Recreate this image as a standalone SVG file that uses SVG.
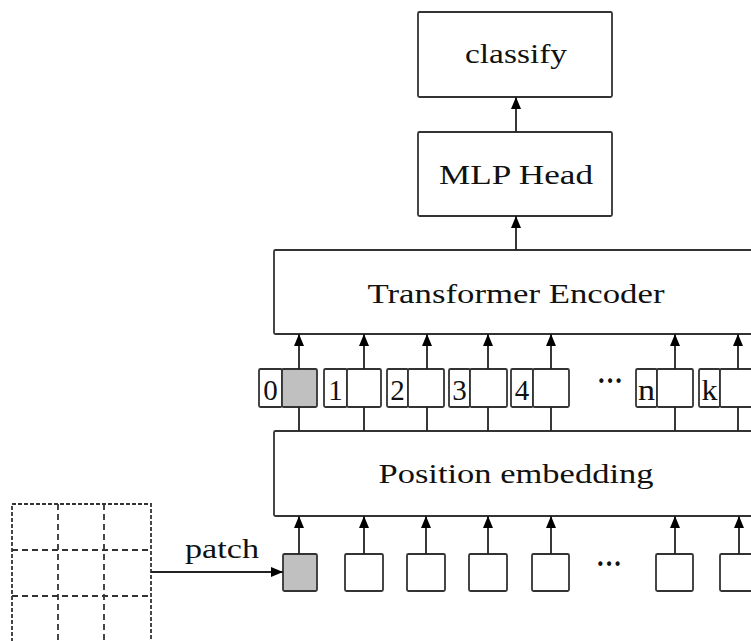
<svg xmlns="http://www.w3.org/2000/svg" width="751" height="641" viewBox="0 0 751 641">
<style>
.box{fill:#fff;stroke:#333;stroke-width:1.8}
.gray{fill:#c0c0c0;stroke:#333;stroke-width:1.8}
.ln{stroke:#222;stroke-width:1.8;fill:none}
.dash{stroke:#333;stroke-width:1.8;fill:none;stroke-dasharray:6 4}
.t{font-family:"Liberation Serif","Times New Roman",serif;fill:#111;text-anchor:middle}
.big{font-size:28px}
.sm{font-size:29px}
</style>
<defs>
<marker id="ah" viewBox="0 0 12 10" refX="12" refY="5" markerWidth="12" markerHeight="10" markerUnits="userSpaceOnUse" orient="auto">
<path d="M0,0 L12,5 L0,10 z" fill="#000"/>
</marker>
</defs>
<rect width="751" height="641" fill="#fff"/>

<g id="classify">
<rect class="box" x="418" y="12" width="194" height="85" rx="1.5"/>
<text class="t big" x="516" y="63" textLength="102" lengthAdjust="spacingAndGlyphs">classify</text>
</g>
<g id="mlp-head">
<rect class="box" x="418" y="132" width="194" height="84" rx="1.5"/>
<text class="t big" x="516" y="184" textLength="154" lengthAdjust="spacingAndGlyphs">MLP Head</text>
</g>
<g id="transformer-encoder">
<rect class="box" x="274" y="250" width="490" height="84" rx="1.5"/>
<text class="t big" x="516" y="303" textLength="297" lengthAdjust="spacingAndGlyphs">Transformer Encoder</text>
</g>
<g id="position-embedding">
<rect class="box" x="274" y="431" width="490" height="85" rx="1.5"/>
<text class="t big" x="516" y="483" textLength="275" lengthAdjust="spacingAndGlyphs">Position embedding</text>
</g>

<g id="image-grid">
<rect class="dash" x="12" y="504" width="139" height="140" style="stroke-dasharray:4 2"/>
<line class="dash" x1="58" y1="504" x2="58" y2="641"/>
<line class="dash" x1="104" y1="504" x2="104" y2="641"/>
<line class="dash" x1="12" y1="550" x2="151" y2="550"/>
<line class="dash" x1="12" y1="596" x2="151" y2="596"/>
</g>

<g id="tokens">
<g id="token-0"><rect class="box" x="259" y="369" width="23" height="38" rx="1.5"/><rect class="gray" x="282" y="369" width="35" height="38" rx="1.5"/><text class="t sm" x="270.5" y="400">0</text></g>
<g id="token-1"><rect class="box" x="324" y="369" width="23" height="38" rx="1.5"/><rect class="box" x="347" y="369" width="34" height="38" rx="1.5"/><text class="t sm" x="335.5" y="400">1</text></g>
<g id="token-2"><rect class="box" x="387" y="369" width="21" height="38" rx="1.5"/><rect class="box" x="408" y="369" width="36" height="38" rx="1.5"/><text class="t sm" x="397.5" y="400">2</text></g>
<g id="token-3"><rect class="box" x="449" y="369" width="21" height="38" rx="1.5"/><rect class="box" x="470" y="369" width="37" height="38" rx="1.5"/><text class="t sm" x="459.5" y="400">3</text></g>
<g id="token-4"><rect class="box" x="511" y="369" width="22" height="38" rx="1.5"/><rect class="box" x="533" y="369" width="36" height="38" rx="1.5"/><text class="t sm" x="522" y="400">4</text></g>
<text class="t sm" x="610" y="390" textLength="26" lengthAdjust="spacingAndGlyphs" style="font-weight:bold">···</text>
<g id="token-n"><rect class="box" x="636" y="369" width="21" height="38" rx="1.5"/><rect class="box" x="657" y="369" width="36" height="38" rx="1.5"/><text class="t sm" x="646.5" y="400" textLength="17" lengthAdjust="spacingAndGlyphs">n</text></g>
<g id="token-k"><rect class="box" x="699" y="369" width="21" height="38" rx="1.5"/><rect class="box" x="720" y="369" width="40" height="38" rx="1.5"/><text class="t sm" x="709.5" y="400" textLength="16" lengthAdjust="spacingAndGlyphs">k</text></g>
</g>

<g id="patches">
<rect class="gray" x="283" y="554" width="34" height="37" rx="1.5"/>
<rect class="box" x="345" y="554" width="38" height="37" rx="1.5"/>
<rect class="box" x="407" y="554" width="38" height="37" rx="1.5"/>
<rect class="box" x="469" y="554" width="38" height="37" rx="1.5"/>
<rect class="box" x="532" y="554" width="37" height="37" rx="1.5"/>
<text class="t sm" x="609" y="573" textLength="26" lengthAdjust="spacingAndGlyphs" style="font-weight:bold">···</text>
<rect class="box" x="656" y="554" width="37" height="37" rx="1.5"/>
<rect class="box" x="720" y="554" width="40" height="37" rx="1.5"/>
</g>

<g id="connectors">
<line class="ln" x1="516" y1="132" x2="516" y2="97" marker-end="url(#ah)"/>
<line class="ln" x1="516" y1="250" x2="516" y2="216" marker-end="url(#ah)"/>
<g id="tok-to-enc">
<line class="ln" x1="299" y1="369" x2="299" y2="334" marker-end="url(#ah)"/>
<line class="ln" x1="364" y1="369" x2="364" y2="334" marker-end="url(#ah)"/>
<line class="ln" x1="427" y1="369" x2="427" y2="334" marker-end="url(#ah)"/>
<line class="ln" x1="488" y1="369" x2="488" y2="334" marker-end="url(#ah)"/>
<line class="ln" x1="551" y1="369" x2="551" y2="334" marker-end="url(#ah)"/>
<line class="ln" x1="675" y1="369" x2="675" y2="334" marker-end="url(#ah)"/>
<line class="ln" x1="738" y1="369" x2="738" y2="334" marker-end="url(#ah)"/>
</g>
<g id="pos-to-tok">
<line class="ln" x1="299" y1="431" x2="299" y2="407"/>
<line class="ln" x1="364" y1="431" x2="364" y2="407"/>
<line class="ln" x1="427" y1="431" x2="427" y2="407"/>
<line class="ln" x1="488" y1="431" x2="488" y2="407"/>
<line class="ln" x1="551" y1="431" x2="551" y2="407"/>
<line class="ln" x1="675" y1="431" x2="675" y2="407"/>
<line class="ln" x1="738" y1="431" x2="738" y2="407"/>
</g>
<g id="patch-to-pos">
<line class="ln" x1="299" y1="554" x2="299" y2="516" marker-end="url(#ah)"/>
<line class="ln" x1="364" y1="554" x2="364" y2="516" marker-end="url(#ah)"/>
<line class="ln" x1="426" y1="554" x2="426" y2="516" marker-end="url(#ah)"/>
<line class="ln" x1="488" y1="554" x2="488" y2="516" marker-end="url(#ah)"/>
<line class="ln" x1="551" y1="554" x2="551" y2="516" marker-end="url(#ah)"/>
<line class="ln" x1="675" y1="554" x2="675" y2="516" marker-end="url(#ah)"/>
<line class="ln" x1="739" y1="554" x2="739" y2="516" marker-end="url(#ah)"/>
</g>
<line class="ln" x1="151" y1="572" x2="283" y2="572" marker-end="url(#ah)"/>
<text class="t big" x="222" y="558" textLength="74" lengthAdjust="spacingAndGlyphs">patch</text>
</g>
</svg>
